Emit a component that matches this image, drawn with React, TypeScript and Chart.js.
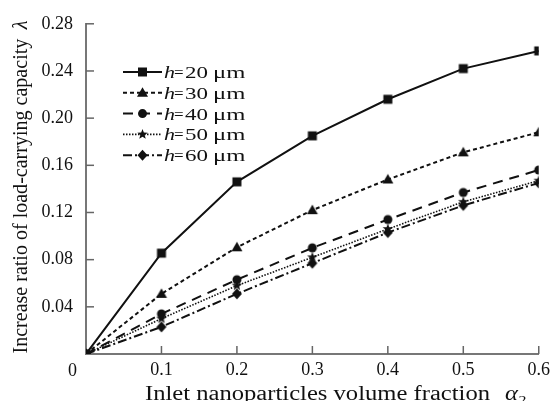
import React, { useEffect, useRef } from 'react';
import { Chart, registerables } from 'chart.js';

Chart.register(...registerables);

const xValues = [0, 0.1, 0.2, 0.3, 0.4, 0.5, 0.6];
const h20 = [0, 0.0855, 0.146, 0.185, 0.216, 0.242, 0.257];
const h30 = [0, 0.051, 0.0905, 0.122, 0.148, 0.171, 0.188];
const h40 = [0, 0.034, 0.063, 0.090, 0.114, 0.137, 0.156];
const h50 = [0, 0.030, 0.058, 0.082, 0.106, 0.129, 0.147];
const h60 = [0, 0.023, 0.051, 0.077, 0.103, 0.126, 0.145];
const seriesValues = [h20, h30, h40, h50, h60];
const seriesLabels = ['20', '30', '40', '50', '60'];
const yTickValues = [0.04, 0.08, 0.12, 0.16, 0.2, 0.24, 0.28];
const xTickValues = [0.1, 0.2, 0.3, 0.4, 0.5, 0.6];
const yTitle = 'Increase ratio of load-carrying capacity';
const yTitleSymbol = 'λ';
const xTitle = 'Inlet nanoparticles volume fraction';
const xTitleSymbol = 'α';
const xTitleSub = '2';

const FONT = '"Liberation Serif", "Times New Roman", serif';
const INK = '#111';

const dashes: number[][] = [[], [4, 3], [10, 7], [1.5, 1.5], [9, 3, 2, 3]];
const widths = [2, 2, 2, 1.6, 2];
const markerKinds = ['square', 'triangle', 'circle', 'star', 'diamond'];

function drawMarker(ctx: CanvasRenderingContext2D, kind: string, x: number, y: number) {
  ctx.save();
  ctx.fillStyle = INK;
  ctx.beginPath();
  if (kind === 'square') {
    ctx.rect(x - 4.5, y - 4.5, 9, 9);
  } else if (kind === 'triangle') {
    ctx.moveTo(x, y - 5.5);
    ctx.lineTo(x + 5.5, y + 4);
    ctx.lineTo(x - 5.5, y + 4);
    ctx.closePath();
  } else if (kind === 'circle') {
    ctx.arc(x, y, 4.5, 0, Math.PI * 2);
  } else if (kind === 'star') {
    const R = 5.5, r = 2.3;
    for (let i = 0; i < 10; i++) {
      const a = -Math.PI / 2 + (i * Math.PI) / 5;
      const rr = i % 2 === 0 ? R : r;
      const px = x + rr * Math.cos(a), py = y + rr * Math.sin(a);
      if (i === 0) ctx.moveTo(px, py); else ctx.lineTo(px, py);
    }
    ctx.closePath();
  } else {
    ctx.moveTo(x, y - 5.5);
    ctx.lineTo(x + 5, y);
    ctx.lineTo(x, y + 5.5);
    ctx.lineTo(x - 5, y);
    ctx.closePath();
  }
  ctx.fill();
  ctx.restore();
}

function markerImage(kind: string): HTMLCanvasElement {
  const c = document.createElement('canvas');
  c.width = 14;
  c.height = 14;
  const cx = c.getContext('2d')!;
  drawMarker(cx, kind, 7, 7);
  return c;
}

function stretchedText(ctx: CanvasRenderingContext2D, text: string, x: number, y: number, font: string, sx: number) {
  ctx.save();
  ctx.font = font;
  ctx.translate(x, y);
  ctx.scale(sx, 1);
  ctx.fillText(text, 0, 0);
  ctx.restore();
}

const decorPlugin = {
  id: 'decor',
  afterDraw(chart: any) {
    const ctx: CanvasRenderingContext2D = chart.ctx;
    const xs = chart.scales.x;
    const ys = chart.scales.y;
    const ca = chart.chartArea;
    ctx.save();
    // inward tick marks
    ctx.strokeStyle = '#666';
    ctx.lineWidth = 1.5;
    ctx.setLineDash([]);
    yTickValues.forEach((v) => {
      const py = ys.getPixelForValue(v);
      ctx.beginPath();
      ctx.moveTo(ca.left, py);
      ctx.lineTo(ca.left + 8, py);
      ctx.stroke();
    });
    xTickValues.forEach((v) => {
      const px = xs.getPixelForValue(v);
      ctx.beginPath();
      ctx.moveTo(px, ca.bottom);
      ctx.lineTo(px, ca.bottom - 8);
      ctx.stroke();
    });

    // shared origin label
    ctx.fillStyle = INK;
    ctx.font = `18px ${FONT}`;
    ctx.textAlign = 'left';
    ctx.textBaseline = 'alphabetic';
    ctx.fillText('0', 68, 376);

    // x title (fitted to the reference width)
    const fx = `20px ${FONT}`;
    const fxi = `italic 20px ${FONT}`;
    const fxs = `13px ${FONT}`;
    ctx.font = fx;
    const w1 = ctx.measureText(xTitle).width;
    const kx = 345 / w1;
    const by = 400;
    stretchedText(ctx, xTitle, 145, by, fx, kx);
    stretchedText(ctx, xTitleSymbol, 505, by, fxi, kx);
    ctx.font = fxi;
    const wa = ctx.measureText(xTitleSymbol).width * kx;
    stretchedText(ctx, xTitleSub, 505 + wa + 0.5, by + 4, fxs, kx);

    // y title (fitted to the reference length)
    ctx.save();
    ctx.translate(27, 187);
    ctx.rotate(-Math.PI / 2);
    const fy = `21px ${FONT}`;
    const fyi = `italic 21px ${FONT}`;
    ctx.font = fy;
    const wy1 = ctx.measureText(yTitle).width;
    ctx.font = fyi;
    const wy2 = ctx.measureText(yTitleSymbol).width;
    const gapY = 10;
    const natural = wy1 + gapY + wy2;
    const ky = 333 / natural;
    const startY = -333 / 2;
    stretchedText(ctx, yTitle, startY, 0, fy, ky);
    stretchedText(ctx, yTitleSymbol, startY + (wy1 + gapY) * ky, 0, fyi, ky);
    ctx.restore();

    // legend
    seriesLabels.forEach((lab, i) => {
      const ly = 72 + i * 20.8;
      ctx.save();
      ctx.strokeStyle = INK;
      ctx.lineWidth = widths[i];
      ctx.setLineDash(dashes[i]);
      ctx.beginPath();
      ctx.moveTo(123, ly);
      ctx.lineTo(162, ly);
      ctx.stroke();
      ctx.restore();
      drawMarker(ctx, markerKinds[i], 142.5, ly);
      ctx.fillStyle = INK;
      ctx.textAlign = 'left';
      ctx.textBaseline = 'alphabetic';
      const base = ly + 6;
      stretchedText(ctx, 'h', 164, base, `italic 17px ${FONT}`, 1.3);
      stretchedText(ctx, '=', 174, base, `17px ${FONT}`, 1.0);
      stretchedText(ctx, lab, 185, base, `17px ${FONT}`, 1.35);
      stretchedText(ctx, 'μm', 213, base, `17px ${FONT}`, 1.45);
    });
    ctx.restore();
  },
};

export default function App() {
  const ref = useRef<HTMLCanvasElement | null>(null);
  useEffect(() => {
    if (!ref.current) return;
    const images = markerKinds.map(markerImage);
    const chart = new Chart(ref.current, {
      type: 'line',
      data: {
        datasets: seriesValues.map((vals, i) => ({
          label: `h=${seriesLabels[i]} μm`,
          data: vals.map((v, j) => ({ x: xValues[j], y: v })),
          borderColor: INK,
          backgroundColor: INK,
          borderWidth: widths[i],
          borderDash: dashes[i],
          pointStyle: images[i] as any,
          pointRadius: 5,
          tension: 0,
          clip: { left: 0, right: 0, top: 10, bottom: 0 } as any,
        })),
      },
      options: {
        animation: false,
        responsive: false,
        devicePixelRatio: 1,
        layout: { padding: { top: 20, right: 14, left: 0, bottom: 0 } },
        plugins: { legend: { display: false }, tooltip: { enabled: false } },
        scales: {
          x: {
            type: 'linear',
            min: 0,
            max: 0.6,
            afterFit: (s: any) => { s.height = 47; },
            ticks: {
              stepSize: 0.1,
              color: INK,
              font: { family: FONT, size: 18 },
              padding: 5,
              maxRotation: 0,
              callback: (v: any) => (Math.abs(v) < 1e-9 ? '' : Number(v).toFixed(1)),
            },
            grid: { display: false, drawTicks: false },
            border: { display: true, color: '#777', width: 2 },
          },
          y: {
            type: 'linear',
            min: 0,
            max: 0.28,
            afterFit: (s: any) => { s.width = 86; },
            ticks: {
              stepSize: 0.04,
              color: INK,
              font: { family: FONT, size: 18 },
              padding: 13,
              callback: (v: any) => (Math.abs(v) < 1e-9 ? '' : Number(v).toFixed(2)),
            },
            grid: { display: false, drawTicks: false },
            border: { display: true, color: '#777', width: 2 },
          },
        },
      },
      plugins: [decorPlugin],
    });
    return () => chart.destroy();
  }, []);
  return (
    <div style={{ position: 'fixed', left: 0, top: 0, width: 555, height: 401, background: '#fff' }}>
      <canvas ref={ref} width={555} height={401} />
    </div>
  );
}
